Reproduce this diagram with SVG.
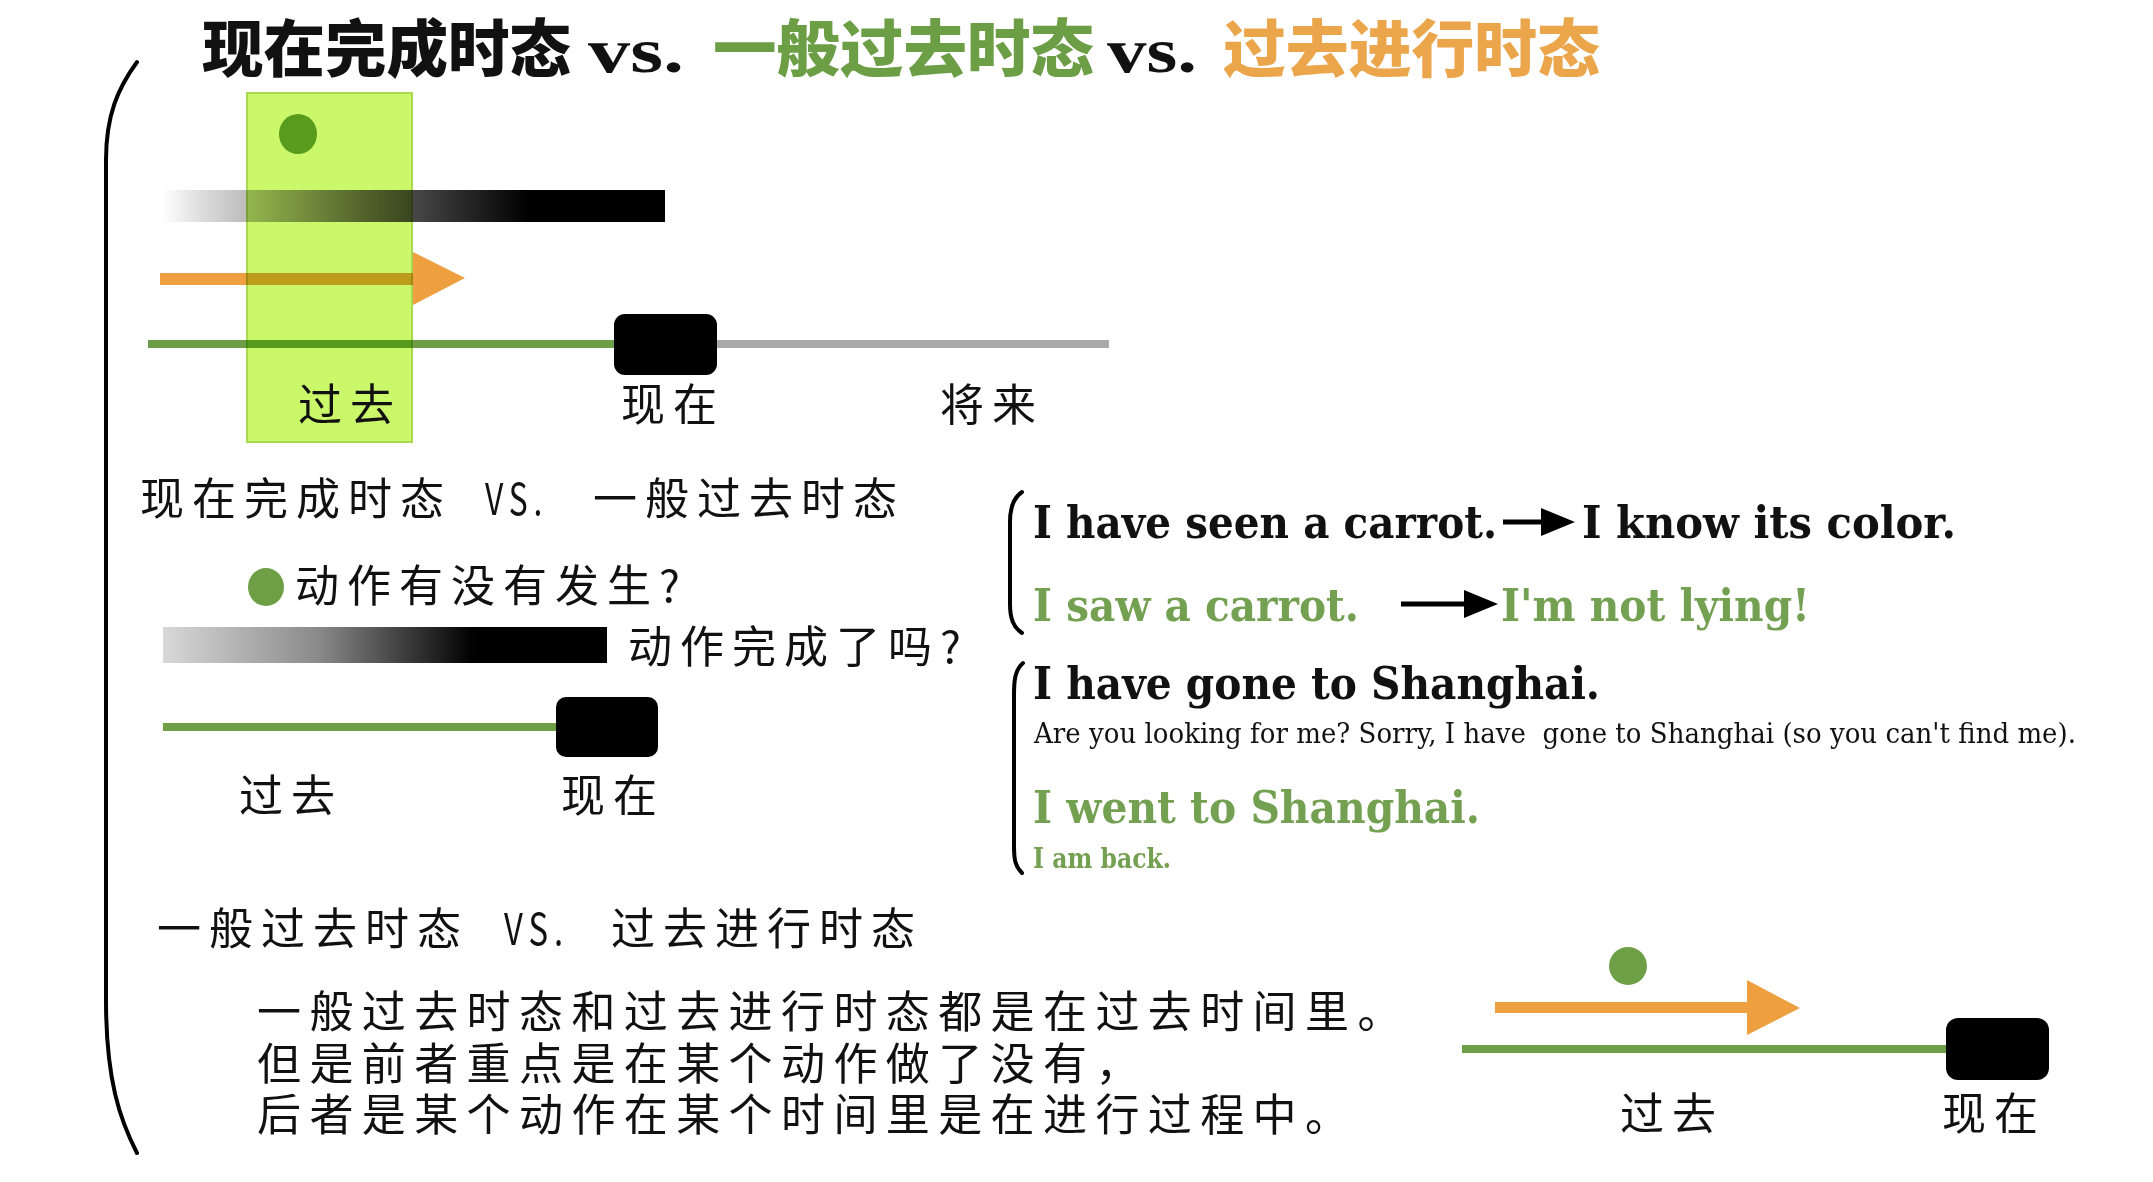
<svg xmlns="http://www.w3.org/2000/svg" width="2153" height="1182" viewBox="0 0 2153 1182">
<defs>
  <linearGradient id="fade1" x1="0" y1="0" x2="1" y2="0">
    <stop offset="0" stop-color="#ffffff"/>
    <stop offset="0.08" stop-color="#dcdcdc"/>
    <stop offset="0.4" stop-color="#666666"/>
    <stop offset="0.73" stop-color="#000000"/>
    <stop offset="1" stop-color="#000000"/>
  </linearGradient>
  <linearGradient id="fade2" x1="0" y1="0" x2="1" y2="0">
    <stop offset="0" stop-color="#d8d8d8"/>
    <stop offset="0.35" stop-color="#8a8a8a"/>
    <stop offset="0.7" stop-color="#000000"/>
    <stop offset="1" stop-color="#000000"/>
  </linearGradient>
  <marker id="ah" markerUnits="userSpaceOnUse" markerWidth="34" markerHeight="28" viewBox="0 0 34 28" refX="1" refY="14" orient="auto">
    <path d="M0,0 L34,14 L0,28 Z" fill="#000"/>
  </marker>
</defs>
<style>
  .title{font-family:"Noto Sans CJK SC",sans-serif;font-weight:900;font-size:62px}
  .vs{font-family:"Liberation Serif",serif;font-weight:bold;font-size:64px;fill:#111}
  .t{font-family:"Noto Sans CJK SC",sans-serif;font-size:44px;fill:#111;letter-spacing:8px}
  .p{font-family:"Noto Sans CJK SC",sans-serif;font-size:44px;fill:#111;letter-spacing:8.4px}
  .en{font-family:"DejaVu Serif",serif;font-weight:bold;font-size:45px}
  .small{font-family:"DejaVu Serif",serif;font-size:27px;white-space:pre}
  .blk{fill:#111}
  .grn{fill:#74a052}
  .gline{fill:#6e9f46}
  .orange{fill:#eea040}
  .now{fill:#000}
  .brace{fill:none;stroke:#000;stroke-width:4;stroke-linecap:round}
  .conn{stroke:#000;stroke-width:5;marker-end:url(#ah)}
</style>
<rect width="2153" height="1182" fill="#fff"/>

<g id="title">
  <text class="title" x="202" y="72" textLength="369" lengthAdjust="spacingAndGlyphs" fill="#111">现在完成时态</text>
  <text class="vs" x="588" y="72" textLength="96" lengthAdjust="spacingAndGlyphs">vs.</text>
  <text class="title" x="713" y="72" textLength="381" lengthAdjust="spacingAndGlyphs" fill="#6b9e45">一般过去时态</text>
  <text class="vs" x="1107" y="72" textLength="90" lengthAdjust="spacingAndGlyphs">vs.</text>
  <text class="title" x="1223" y="72" textLength="377" lengthAdjust="spacingAndGlyphs" fill="#eba54b">过去进行时态</text>
</g>

<g id="left-brace">
  <path class="brace" d="M137,62 C118,88 106,115 106,160 L106,1000 C106,1080 120,1120 137,1153"/>
</g>

<g id="timeline-overview">
  <rect x="162" y="190" width="503" height="32" fill="url(#fade1)"/>
  <rect x="160" y="273" width="255" height="12" class="orange"/>
  <polygon points="413,252 465,278 413,305" class="orange"/>
  <rect x="148" y="340" width="470" height="8" class="gline"/>
  <rect x="716" y="340" width="393" height="8" fill="#aaaaaa"/>
  <rect x="614" y="314" width="103" height="61" rx="11" class="now"/>
  <ellipse cx="298" cy="134" rx="19" ry="20" fill="#6e9f46"/>
  <rect x="247" y="93" width="165" height="349" fill="#cbf86a" stroke="#a9d94e" stroke-width="2" style="mix-blend-mode:multiply"/>
  <text class="t" x="298" y="421">过去</text>
  <text class="t" x="621" y="421">现在</text>
  <text class="t" x="940" y="421">将来</text>
</g>

<g id="section-perfect-vs-past">
  <text class="t" x="140" y="515">现在完成时态</text>
  <text class="t" x="485" y="515" textLength="63" lengthAdjust="spacingAndGlyphs">VS.</text>
  <text class="t" x="593" y="515">一般过去时态</text>
  <ellipse cx="266" cy="587" rx="18" ry="19" fill="#6e9f46"/>
  <text class="t" x="295" y="602">动作有没有发生?</text>
  <rect x="163" y="627" width="444" height="36" fill="url(#fade2)"/>
  <text class="t" x="628" y="663">动作完成了吗?</text>
  <rect x="163" y="723" width="395" height="8" class="gline"/>
  <rect x="556" y="697" width="102" height="60" rx="10" class="now"/>
  <text class="t" x="239" y="812">过去</text>
  <text class="t" x="561" y="812">现在</text>
</g>

<g id="examples-carrot">
  <path class="brace" d="M1022,492 C1013,498 1010,508 1010,522 L1010,604 C1010,618 1013,627 1022,633"/>
  <text class="en blk" x="1033" y="538" textLength="464" lengthAdjust="spacingAndGlyphs">I have seen a carrot.</text>
  <text class="en blk" x="1582" y="538" textLength="374" lengthAdjust="spacingAndGlyphs">I know its color.</text>
  <text class="en grn" x="1033" y="621" textLength="326" lengthAdjust="spacingAndGlyphs">I saw a carrot.</text>
  <text class="en grn" x="1501" y="621" textLength="309" lengthAdjust="spacingAndGlyphs">I'm not lying!</text>
</g>

<g id="examples-shanghai">
  <path class="brace" d="M1023,663 C1015,670 1014,680 1014,695 L1014,845 C1014,860 1015,866 1022,873"/>
  <text class="en blk" x="1033" y="699" textLength="567" lengthAdjust="spacingAndGlyphs">I have gone to Shanghai.</text>
  <text class="small blk" x="1034" y="743" textLength="1042" lengthAdjust="spacingAndGlyphs">Are you looking for me? Sorry, I have  gone to Shanghai (so you can't find me).</text>
  <text class="en grn" x="1033" y="823" textLength="447" lengthAdjust="spacingAndGlyphs">I went to Shanghai.</text>
  <text class="small grn" x="1033" y="868" font-weight="bold" textLength="138" lengthAdjust="spacingAndGlyphs">I am back.</text>
</g>

<g id="section-past-vs-progressive">
  <text class="t" x="157" y="945">一般过去时态</text>
  <text class="t" x="504" y="945" textLength="65" lengthAdjust="spacingAndGlyphs">VS.</text>
  <text class="t" x="611" y="945">过去进行时态</text>
  <text class="p" x="257" y="1028">一般过去时态和过去进行时态都是在过去时间里。</text>
  <text class="p" x="257" y="1080">但是前者重点是在某个动作做了没有，</text>
  <text class="p" x="257" y="1131">后者是某个动作在某个时间里是在进行过程中。</text>
</g>

<g id="timeline-progressive">
  <ellipse cx="1628" cy="966" rx="19" ry="19" fill="#6e9f46"/>
  <rect x="1495" y="1002" width="254" height="11" class="orange"/>
  <polygon points="1747,980 1800,1008 1747,1035" class="orange"/>
  <rect x="1462" y="1045" width="486" height="8" class="gline"/>
  <rect x="1946" y="1018" width="103" height="62" rx="12" class="now"/>
  <text class="t" x="1620" y="1130">过去</text>
  <text class="t" x="1942" y="1130">现在</text>
</g>

<g id="connectors">
  <line class="conn" x1="1503" y1="522" x2="1542" y2="522"/>
  <line class="conn" x1="1401" y1="604" x2="1465" y2="604"/>
</g>
</svg>
